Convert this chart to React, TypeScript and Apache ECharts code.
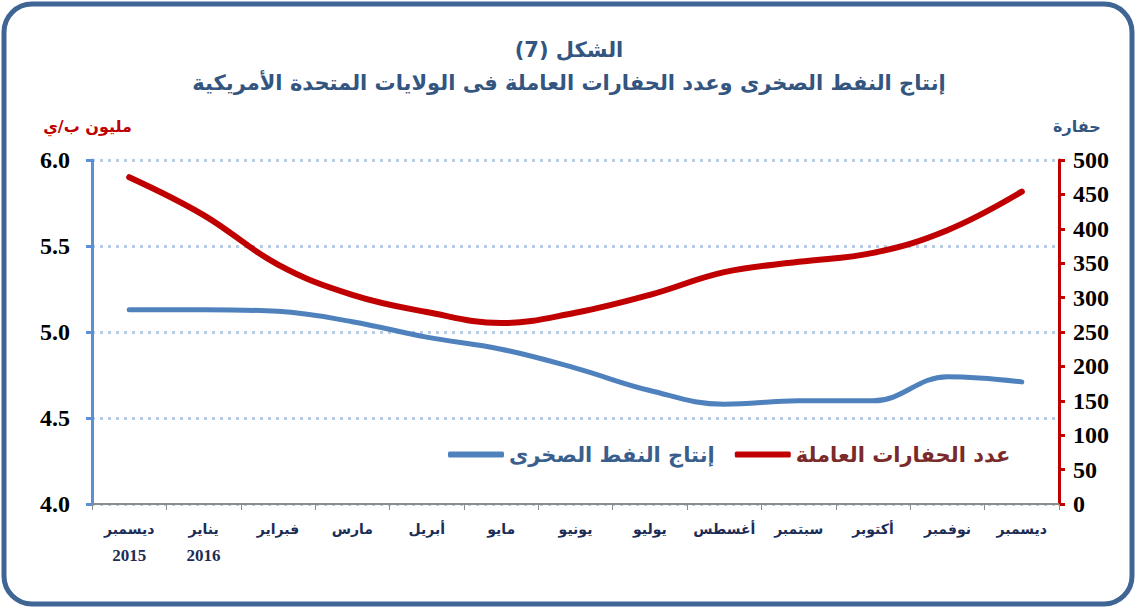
import React, { useEffect, useRef } from "react";
import * as echarts from "echarts";

const months = ["ديسمبر", "يناير", "فبراير", "مارس", "أبريل", "مايو", "يونيو", "يوليو", "أغسطس", "سبتمبر", "أكتوبر", "نوفمبر", "ديسمبر"];
const years = ["2015", "2016", "", "", "", "", "", "", "", "", "", "", ""];
const shaleProduction = [5.13, 5.13, 5.12, 5.06, 4.97, 4.9, 4.79, 4.66, 4.58, 4.6, 4.6, 4.74, 4.71];
const rigCount = [475, 420, 348, 304, 279, 263, 278, 304, 337, 352, 365, 398, 454];

const titleText = "الشكل (7)\nإنتاج النفط الصخرى وعدد الحفارات العاملة فى الولايات المتحدة الأمريكية";
const shaleName = "إنتاج النفط الصخرى";
const rigName = "عدد الحفارات العاملة";
const leftUnit = "مليون ب/ي";
const rightUnit = "حفارة";

const arabicFont = '"DejaVu Sans", sans-serif';
const serifFont = '"Liberation Serif", "Times New Roman", serif';

export default function App() {
  const ref = useRef<HTMLDivElement>(null);
  useEffect(() => {
    if (!ref.current) return;
    const chart = echarts.init(ref.current, null, { renderer: "svg" });
    const categories = months.map((m, i) => (years[i] ? m + "\n" + years[i] : m));
    chart.setOption({
      animation: false,
      backgroundColor: "#ffffff",
      graphic: [
        {
          type: "rect",
          shape: { x: 4, y: 4, width: 1128, height: 600, r: 28 },
          style: { fill: "none", stroke: "#3e6593", lineWidth: 5 },
          z: -1,
        },
      ],
      title: {
        text: titleText,
        left: "center",
        top: 28,
        textStyle: {
          fontFamily: arabicFont,
          fontSize: 21,
          fontWeight: "bold",
          color: "#33557f",
          lineHeight: 33,
        },
      },
      legend: {
        data: [
          { name: shaleName, textStyle: { color: "#3a5f8c" } },
          { name: rigName, textStyle: { color: "#7a2a2a" } },
        ],
        top: 439,
        left: 443,
        itemWidth: 56,
        itemHeight: 6,
        itemGap: 20,
        icon: "roundRect",
        textStyle: { fontFamily: arabicFont, fontSize: 21, fontWeight: "bold" },
      },
      grid: { left: 92, right: 79, top: 160, bottom: 107 },
      xAxis: {
        type: "category",
        data: categories,
        boundaryGap: true,
        axisLine: { lineStyle: { color: "#8c8c8c", width: 2 } },
        axisTick: { show: true, length: 6, lineStyle: { color: "#8c8c8c" } },
        axisLabel: {
          fontFamily: arabicFont,
          fontSize: 14,
          fontWeight: "bold",
          color: "#1d2c55",
          margin: 12,
          lineHeight: 26,
          interval: 0,
          formatter: (v: string) => {
            const parts = v.split("\n");
            return parts.length > 1 ? parts[0] + "\n{y|" + parts[1] + "}" : parts[0];
          },
          rich: {
            y: { fontFamily: serifFont, fontSize: 17, fontWeight: "bold", color: "#1d2c55" },
          },
        },
      },
      yAxis: [
        {
          type: "value",
          min: 4,
          max: 6,
          interval: 0.5,
          name: leftUnit,
          nameLocation: "end",
          nameGap: 26,
          nameTextStyle: { fontFamily: arabicFont, fontSize: 16, fontWeight: "bold", color: "#c00000", align: "right", padding: [0, -40, 0, 0] },
          axisLine: { show: true, lineStyle: { color: "#5b8fd6", width: 3 } },
          axisTick: { show: true, length: 6, lineStyle: { color: "#5b8fd6", width: 3 } },
          axisLabel: {
            fontFamily: serifFont,
            fontSize: 24,
            fontWeight: "bold",
            color: "#000",
            margin: 22,
            formatter: (v: number) => v.toFixed(1),
          },
          splitLine: { show: true, lineStyle: { color: "#b8cce4", width: 3, type: [3, 5] } },
        },
        {
          type: "value",
          min: 0,
          max: 500,
          interval: 50,
          name: rightUnit,
          nameLocation: "end",
          nameGap: 26,
          nameTextStyle: { fontFamily: arabicFont, fontSize: 16, fontWeight: "bold", color: "#33557f", align: "left", padding: [0, 0, 0, -6] },
          axisLine: { show: true, lineStyle: { color: "#c00000", width: 3 } },
          axisTick: { show: true, length: 6, lineStyle: { color: "#c00000", width: 3 } },
          axisLabel: {
            fontFamily: serifFont,
            fontSize: 24,
            fontWeight: "bold",
            color: "#000",
            margin: 14,
          },
          splitLine: { show: false },
        },
      ],
      series: [
        {
          name: shaleName,
          type: "line",
          yAxisIndex: 0,
          data: shaleProduction,
          smooth: 0.4,
          showSymbol: false,
          symbol: "none",
          itemStyle: { color: "#4f81bd" },
          lineStyle: { color: "#4f81bd", width: 5, cap: "round" },
        },
        {
          name: rigName,
          type: "line",
          yAxisIndex: 1,
          data: rigCount,
          smooth: 0.4,
          showSymbol: false,
          symbol: "none",
          itemStyle: { color: "#c00000" },
          lineStyle: { color: "#c00000", width: 6, cap: "round" },
        },
      ],
    });
    return () => chart.dispose();
  }, []);
  return (
    <div
      ref={ref}
      style={{ position: "fixed", left: 0, top: 0, width: 1138, height: 611 }}
    />
  );
}
